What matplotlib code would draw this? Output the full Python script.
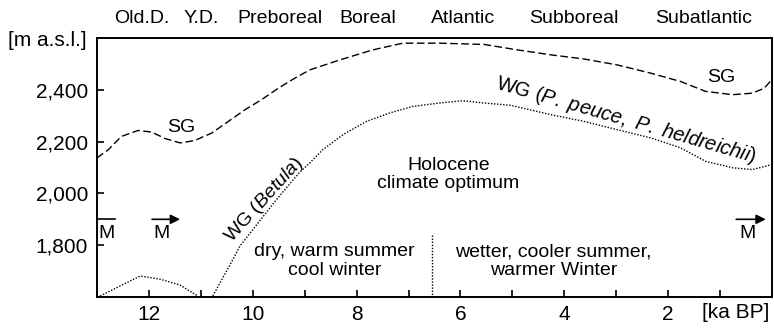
import matplotlib
matplotlib.use("Agg")
import matplotlib.pyplot as plt
import matplotlib.transforms as mtransforms

plt.rcParams["font.family"] = ["Liberation Sans", "DejaVu Sans"]
plt.rcParams["mathtext.fontset"] = "custom"
plt.rcParams["mathtext.rm"] = "Liberation Sans"
plt.rcParams["mathtext.it"] = "Liberation Sans:italic"

# upper limit of subalpine grassland (SG), ka BP vs m a.s.l.
sg_x = [13.0, 12.78, 12.53, 12.21, 11.95, 11.69, 11.40, 11.12, 10.79, 10.47,
        10.15, 9.83, 9.51, 9.19, 8.90, 8.33, 7.69, 7.11, 6.40, 5.54, 4.90,
        4.26, 3.62, 2.98, 2.33, 1.76, 1.28, 0.76, 0.38, 0.15, 0.0]
sg_y = [2137, 2169, 2220, 2243, 2237, 2212, 2195, 2204, 2233, 2278,
        2323, 2362, 2406, 2445, 2477, 2515, 2554, 2580, 2580, 2575, 2554,
        2535, 2519, 2496, 2464, 2432, 2394, 2381, 2387, 2406, 2440]

# woodland limit (WG): Betula first, later P. peuce / P. heldreichii
wg_x = [10.77, 10.38, 10.25, 9.54, 9.10, 8.90, 8.65, 8.26, 7.81, 7.37, 6.92,
        6.40, 5.96, 5.54, 5.03, 4.26, 3.62, 2.98, 2.33, 1.76, 1.28, 0.76,
        0.38, 0.12, 0.0]
wg_y = [1604, 1746, 1796, 1977, 2081, 2118, 2169, 2227, 2278, 2310, 2336,
        2349, 2358, 2349, 2340, 2304, 2278, 2246, 2214, 2176, 2124, 2099,
        2092, 2105, 2112]

# late-glacial woodland limit
lg_x = [12.94, 12.56, 12.17, 11.79, 11.40, 11.06]
lg_y = [1604, 1642, 1681, 1669, 1646, 1604]

periods = ["Old.D.", "Y.D.", "Preboreal", "Boreal", "Atlantic", "Subboreal", "Subatlantic"]
period_x = [12.13, 11.0, 9.48, 7.79, 5.96, 3.81, 1.31]

xticks_major = [12, 10, 8, 6, 4, 2]
xticks_minor = [13, 11, 9, 7, 5, 3, 1]
yticks = [1800, 2000, 2200, 2400]

fig = plt.figure(figsize=(7.74, 3.3), dpi=100)
ax = fig.add_axes([97 / 774, 1 - 297 / 330, 675 / 774, 259 / 330])
ax.set_xlim(13, 0)
ax.set_ylim(1600, 2600)

dots = (0, (1, 1.2))
ax.plot(sg_x, sg_y, color="k", lw=1.0, ls=(0, (5.5, 2.5)))
ax.plot(wg_x, wg_y, color="k", lw=1.0, ls=dots)
ax.plot(lg_x, lg_y, color="k", lw=1.0, ls=dots)
ax.plot([6.54, 6.54], [1838, 1600], color="k", lw=1.0, ls=dots)

for s in ax.spines.values():
    s.set_linewidth(1.4)
ax.set_xticks(xticks_major)
ax.set_xticks(xticks_minor, minor=True)
ax.set_yticks(yticks)
ax.set_yticklabels([f"{v:,}" for v in yticks])
ax.tick_params(axis="both", which="both", direction="in", length=5, width=1.2,
               labelsize=15)
ax.tick_params(axis="x", pad=5.5)
ax.tick_params(axis="y", pad=6.5)

# period names above the frame
tr = mtransforms.blended_transform_factory(ax.transData, ax.transAxes)
for name, px in zip(periods, period_x):
    ax.text(px, 1.077, name, transform=tr, ha="center", va="center", fontsize=14)

fig.text(47.5 / 774, 1 - 40 / 330, "[m a.s.l.]", ha="center", va="center", fontsize=15)
ax.text(0.69, -0.058, "[ka BP]", transform=tr, ha="center", va="center", fontsize=15,
        clip_on=False)

# curve labels
ax.text(11.38, 2254, "SG", ha="center", va="center", fontsize=14)
ax.text(0.98, 2446, "SG", ha="center", va="center", fontsize=14)
ax.text(2.82, 2282, "WG ($\\it{P.}$ $\\it{peuce,}$ $\\it{P.}$ $\\it{heldreichii}$)",
        ha="center", va="center", fontsize=14.5, rotation=-16, rotation_mode="anchor")
ax.text(9.77, 1977, "WG ($\\it{Betula}$)", ha="center", va="center", fontsize=14,
        rotation=48, rotation_mode="anchor")

ax.text(6.23, 2073, "Holocene\nclimate optimum", ha="center", va="center",
        fontsize=14, linespacing=1.15)
ax.text(8.42, 1738, "dry, warm summer\ncool winter", ha="center", va="center",
        fontsize=14, linespacing=1.15)
ax.text(4.21, 1738, "wetter, cooler summer,\nwarmer Winter", ha="center",
        va="center", fontsize=14, linespacing=1.15)

# M markers with overline / arrows
ax.plot([13.0, 12.65], [1900, 1900], color="k", lw=1.2, clip_on=False)
ax.text(12.81, 1846, "M", ha="center", va="center", fontsize=14)
arrow = dict(arrowstyle="-|>", color="k", lw=1.2, mutation_scale=14,
             shrinkA=0, shrinkB=0)
ax.annotate("", xy=(11.40, 1900), xytext=(11.94, 1900), arrowprops=arrow)
ax.text(11.75, 1846, "M", ha="center", va="center", fontsize=14)
ax.annotate("", xy=(0.12, 1900), xytext=(0.69, 1900), arrowprops=arrow)
ax.text(0.48, 1846, "M", ha="center", va="center", fontsize=14)

fig.savefig("out.png", dpi=100)
